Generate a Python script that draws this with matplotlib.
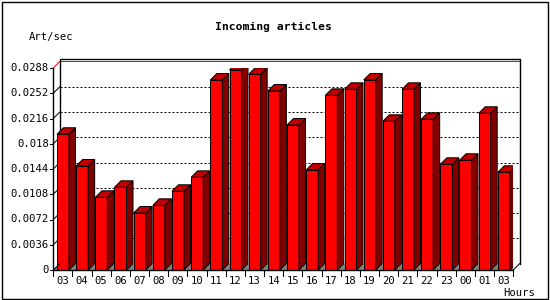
import numpy as np
import matplotlib
matplotlib.use('Agg')
import matplotlib.pyplot as plt
from matplotlib.patches import Polygon, Rectangle

# Data
hours = ['03', '04', '05', '06', '07', '08', '09', '10', '11', '12', '13', '14',
         '15', '16', '17', '18', '19', '20', '21', '22', '23', '00', '01', '03']
art_per_sec = [0.01935, 0.01483, 0.01036, 0.01179, 0.00813, 0.00922, 0.01122,
               0.01321, 0.02709, 0.02851, 0.02790, 0.02552, 0.02067, 0.01426,
               0.02490, 0.02576, 0.02709, 0.02120, 0.02576, 0.02148, 0.01507,
               0.01564, 0.02234, 0.01393]
yticks = [0, 0.0036, 0.0072, 0.0108, 0.0144, 0.018, 0.0216, 0.0252, 0.0288]
ytick_labels = ['0', '0.0036', '0.0072', '0.0108', '0.0144', '0.018',
                '0.0216', '0.0252', '0.0288']

W, H = 550, 300
FONT = 'DejaVu Sans Mono'
LW = 0.72  # one pixel at 100 dpi

fig = plt.figure(figsize=(W / 100, H / 100), dpi=100)
fig.patch.set_facecolor('white')

# axes: x = slot index 0..n, y = art/sec
n = len(hours)
ymax = yticks[-1]
x0, x1 = 53.3, 513.3   # pixels
yb, yt = 270, 68       # pixels (from top)
ax = fig.add_axes([x0 / W, (H - yb) / H, (x1 - x0) / W, (yb - yt) / H])
ax.set_xlim(0, n)
ax.set_ylim(0, ymax)
ax.axis('off')

px_x = (x1 - x0) / n
px_y = (yb - yt) / ymax
DX = 6.5 / px_x
DY = 6.5 / px_y

# floor (gray shows between bars)
ax.add_patch(Polygon([(0, 0), (n, 0), (n + DX, DY), (DX, DY)], closed=True,
                     facecolor='#808080', edgecolor='none', zorder=1))

# back wall grid lines (dashed) + small diagonal pieces
for v in yticks[1:-1]:
    ax.plot([DX, n + DX], [v + DY, v + DY], color='black', lw=LW,
            linestyle=(0, (2, 2)), zorder=1, clip_on=False)
    ax.plot([0, DX], [v, v + DY], color='black', lw=LW, zorder=1, clip_on=False)

# red line at the top value
ax.plot([0, DX, n + DX], [ymax, ymax + DY, ymax + DY], color='#FF0000',
        lw=LW, zorder=1, clip_on=False)

# back wall frame
top = ymax + DY + 2.2 / px_y
ax.plot([DX, DX, n + DX, n + DX], [DY, top, top, DY], color='black', lw=LW * 1.4,
        zorder=1, clip_on=False)

# bars with 3d faces
left_off = 3.7 / px_x
bw = 12 / px_x
for i, v in enumerate(art_per_sec):
    xl = i + left_off
    xr = xl + bw
    ax.add_patch(Rectangle((xl, 0), bw, v, facecolor='#FF0000',
                           edgecolor='black', lw=LW, zorder=3))
    ax.add_patch(Polygon([(xr, 0), (xr + DX, DY), (xr + DX, v + DY), (xr, v)],
                         closed=True, facecolor='#800000', edgecolor='black',
                         lw=LW, zorder=3))
    ax.add_patch(Polygon([(xl, v), (xr, v), (xr + DX, v + DY), (xl + DX, v + DY)],
                         closed=True, facecolor='#C00000', edgecolor='black',
                         lw=LW, zorder=3))

# front axes lines
ax.plot([0, 0], [0, ymax], color='black', lw=LW * 1.4, zorder=4, clip_on=False)
ax.plot([0, n], [0, 0], color='black', lw=LW * 1.4, zorder=4, clip_on=False)
ax.plot([0, DX], [0, DY], color='black', lw=LW, zorder=4, clip_on=False)
ax.plot([n, n + DX], [0, DY], color='black', lw=LW, zorder=4, clip_on=False)

# y ticks and labels
for v, lab in zip(yticks, ytick_labels):
    ax.plot([-3 / px_x, 0], [v, v], color='black', lw=LW, clip_on=False, zorder=4)
    ax.text(-4.5 / px_x, v, lab, ha='right', va='center', fontsize=7.6,
            family=FONT, clip_on=False)

# x ticks and labels
for i in range(n + 1):
    ax.plot([i, i], [0, -6 / px_y], color='black', lw=LW, clip_on=False, zorder=4)
for i, lab in enumerate(hours):
    ax.text(i + 0.5, -10.5 / px_y, lab, ha='center', va='center', fontsize=7.6,
            family=FONT, clip_on=False)

# titles
fig.text(273.5 / W, 1 - 27 / H, 'Incoming articles', ha='center', va='center',
         fontsize=8.2, family=FONT, fontweight='bold')
fig.text(29 / W, 1 - 37 / H, 'Art/sec', ha='left', va='center', fontsize=7.6,
         family=FONT)
fig.text(519 / W, 1 - 292.5 / H, 'Hours', ha='center', va='center', fontsize=7.6,
         family=FONT)

# outer border
fig.patches.append(Rectangle((1.5 / W, 1.5 / H), (W - 3.5) / W, (H - 3.5) / H,
                             transform=fig.transFigure, fill=False,
                             edgecolor='black', lw=LW * 1.4))

fig.savefig('out.png', dpi=100)
